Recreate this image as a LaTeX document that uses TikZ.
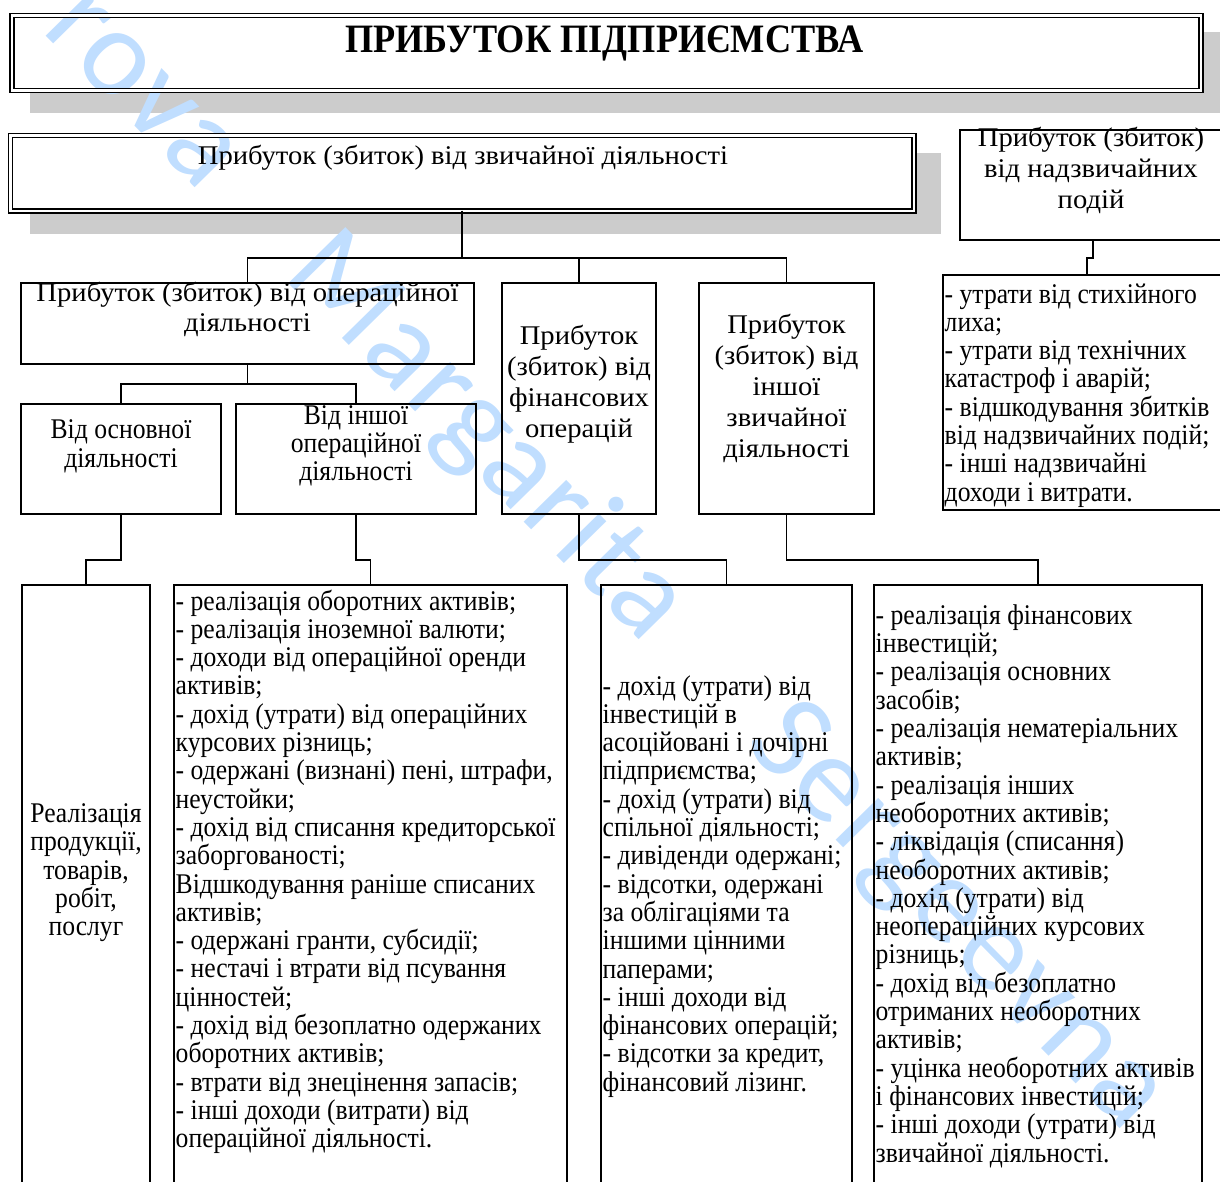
\documentclass[tikz,border=0pt]{standalone}
\usepackage{fontspec}
\setmainfont[FakeStretch=0.9]{Liberation Serif}
\newfontfamily\hfont[FakeStretch=1.06]{Liberation Serif}
\newfontfamily\wmfont[LetterSpace=2]{Carlito}
\usetikzlibrary{calc}
\definecolor{shadowgray}{RGB}{204,204,204}
\definecolor{wmblue}{RGB}{192,222,255}
\pgfdeclarelayer{bg}\pgfdeclarelayer{wm}
\pgfsetlayers{bg,wm,main}
\newcommand\FTitle{\fontsize{40.3}{41}\selectfont\bfseries}
\newcommand\FHead[1]{\hfont\fontsize{27}{#1}\selectfont}
\newcommand\FMid[1]{\fontsize{28.5}{#1}\selectfont}
\newcommand\FList{\fontsize{28.5}{28.3}\selectfont}
\newcommand\bx[6][box]{\node[#1, minimum width={(#5-#3)*1pt}, minimum height={(#6-#4)*1pt}] (#2) at ({(#3+#5)/2},{(#4+#6)/2}) {};}
\begin{document}
\begin{tikzpicture}[x=1pt,y=-1pt,
  box/.style={draw, line width=1.8pt, inner sep=0pt, outer sep=0pt},
  dbox/.style={draw, double, double distance=2.5pt, line width=1.5pt, inner sep=0pt, outer sep=0pt},
  conn/.style={draw, line width=1.8pt},
  ctext/.style={anchor=base, inner sep=0pt},
  ltext/.style={anchor=base west, inner sep=0pt},
  wmark/.style={text=wmblue, font=\wmfont\fontsize{125}{125}\selectfont, rotate=-45.5, anchor=base west, inner sep=0pt}]
\useasboundingbox (0,0) rectangle (1220,1182);
\clip (0,0) rectangle (1220,1182);

% boxes
\bx[dbox]{title}{11.8}{15.3}{1201}{90.7}
\bx[dbox]{ord}{10.3}{135.5}{914}{211}
\bx{op}{21}{283}{474}{364}
\bx{osn}{21}{404}{221}{514}
\bx{insh}{236}{404}{476}{514}
\bx{fin}{502}{283}{656}{514}
\bx{oth}{699}{283}{874}{514}
\bx{extra}{960}{130}{1226}{240}
\bx{exl}{943}{275}{1231}{510}
\bx{l1}{22}{585}{150}{1200}
\bx{l2}{174}{585}{567}{1200}
\bx{l3}{601}{585}{852}{1200}
\bx{l4}{874}{585}{1202}{1200}

% background: shadows and fills
\begin{pgfonlayer}{bg}
  \fill[shadowgray] (30.3,31.7) rectangle (1225,113.3);
  \fill[white] (title.north west) rectangle (title.south east);
  \fill[shadowgray] (30,153) rectangle (941,234);
  \fill[white] (ord.north west) rectangle (ord.south east);
\end{pgfonlayer}

% watermark
\begin{pgfonlayer}{wm}
  \node[wmark] (wm1) at (40,30) {rova};
  \node[wmark] (wm2) at (281.8,276) {Margarita};
  \node[wmark] (wm3) at (743.1,745.1) {Sergeevna};
\end{pgfonlayer}

% connectors
\draw[conn] (ord.south) -- ++(0,47) -| (op.north);
\draw[conn] (ord.south) -- ++(0,47) -| (fin.north);
\draw[conn] (ord.south) -- ++(0,47) -| (oth.north);
\draw[conn] (op.south) -- ++(0,20) -| (osn.north);
\draw[conn] (op.south) -- ++(0,20) -| (insh.north);
\draw[conn] (osn.south) -- ++(0,46) -| (l1.north);
\draw[conn] (insh.south) -- ++(0,46) -| (l2.north);
\draw[conn] (fin.south) -- ++(0,46) -| (l3.north);
\draw[conn] (oth.south) -- ++(0,46) -| (l4.north);
\draw[conn] (extra.south) -- ++(0,18) -| (exl.north);

% texts
\node[ctext] (ttitle) at (604.5,52.7) {\FTitle ПРИБУТОК ПІДПРИЄМСТВА};
\node[ctext] (tord) at (463,165) {\FHead{31}Прибуток (збиток) від звичайної діяльності};
\node[ctext] (top) at (247.5,301) {\parbox[t]{460pt}{\centering\FHead{30}Прибуток (збиток) від операційної\\діяльності}};
\node[ctext] (tosn) at (121,438.7) {\parbox[t]{200pt}{\centering\FMid{28.3}Від основної\\діяльності}};
\node[ctext] (tinsh) at (356,424.3) {\parbox[t]{240pt}{\centering\FMid{28}Від іншої\\операційної\\діяльності}};
\node[ctext] (tfin) at (579,344) {\parbox[t]{160pt}{\centering\FHead{31}Прибуток\\(збиток) від\\фінансових\\операцій}};
\node[ctext] (toth) at (786.5,333.3) {\parbox[t]{180pt}{\centering\FHead{31}Прибуток\\(збиток) від\\іншої\\звичайної\\діяльності}};
\node[ctext] (textra) at (1091,146.5) {\parbox[t]{260pt}{\centering\FHead{31}Прибуток (збиток)\\від надзвичайних\\подій}};
\node[ctext] (tl1) at (86,822.5) {\parbox[t]{128pt}{\centering\FList Реалізація\\продукції,\\товарів,\\робіт,\\послуг}};

\node[ltext] (texl) at (944.5,303) {\parbox[t]{300pt}{\raggedright\FList
- утрати від стихійного\\
лиха;\\
- утрати від технічних\\
катастроф і аварій;\\
- відшкодування збитків\\
від надзвичайних подій;\\
- інші надзвичайні\\
доходи і витрати.}};

\node[ltext] (tl2) at (175.5,610) {\parbox[t]{500pt}{\raggedright\FList
- реалізація оборотних активів;\\
- реалізація іноземної валюти;\\
- доходи від операційної оренди\\
активів;\\
- дохід (утрати) від операційних\\
курсових різниць;\\
- одержані (визнані) пені, штрафи,\\
неустойки;\\
- дохід від списання кредиторської\\
заборгованості;\\
Відшкодування раніше списаних\\
активів;\\
- одержані гранти, субсидії;\\
- нестачі і втрати від псування\\
цінностей;\\
- дохід від безоплатно одержаних\\
оборотних активів;\\
- втрати від знецінення запасів;\\
- інші доходи (витрати) від\\
операційної діяльності.}};

\node[ltext] (tl3) at (602.5,695) {\parbox[t]{300pt}{\raggedright\FList
- дохід (утрати) від\\
інвестицій в\\
асоційовані і дочірні\\
підприємства;\\
- дохід (утрати) від\\
спільної діяльності;\\
- дивіденди одержані;\\
- відсотки, одержані\\
за облігаціями та\\
іншими цінними\\
паперами;\\
- інші доходи від\\
фінансових операцій;\\
- відсотки за кредит,\\
фінансовий лізинг.}};

\node[ltext] (tl4) at (875.5,624.3) {\parbox[t]{400pt}{\raggedright\FList
- реалізація фінансових\\
інвестицій;\\
- реалізація основних\\
засобів;\\
- реалізація нематеріальних\\
активів;\\
- реалізація інших\\
необоротних активів;\\
- ліквідація (списання)\\
необоротних активів;\\
- дохід (утрати) від\\
неопераційних курсових\\
різниць;\\
- дохід від безоплатно\\
отриманих необоротних\\
активів;\\
- уцінка необоротних активів\\
і фінансових інвестицій;\\
- інші доходи (утрати) від\\
звичайної діяльності.}};
\end{tikzpicture}
\end{document}
